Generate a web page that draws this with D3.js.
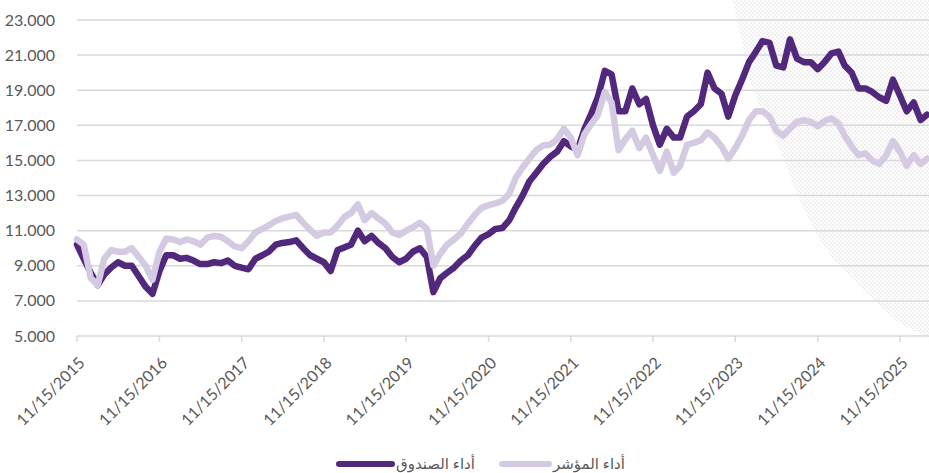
<!DOCTYPE html>
<html>
<head>
<meta charset="utf-8">
<script src="https://cdn.jsdelivr.net/npm/d3@7"></script>
<style>
body { margin: 0; background: #fff; }
svg text { font-family: Lato, "DejaVu Sans", sans-serif; fill: #595959; }
</style>
</head>
<body>
<svg id="chart" width="929" height="473"></svg>
<script>

// monthly observations (15th of each month)
var months = [
  "2015-11","2015-12","2016-01","2016-02","2016-03","2016-04","2016-05","2016-06","2016-07","2016-08","2016-09","2016-10",
  "2016-11","2016-12","2017-01","2017-02","2017-03","2017-04","2017-05","2017-06","2017-07","2017-08","2017-09","2017-10",
  "2017-11","2017-12","2018-01","2018-02","2018-03","2018-04","2018-05","2018-06","2018-07","2018-08","2018-09","2018-10",
  "2018-11","2018-12","2019-01","2019-02","2019-03","2019-04","2019-05","2019-06","2019-07","2019-08","2019-09","2019-10",
  "2019-11","2019-12","2020-01","2020-02","2020-03","2020-04","2020-05","2020-06","2020-07","2020-08","2020-09","2020-10",
  "2020-11","2020-12","2021-01","2021-02","2021-03","2021-04","2021-05","2021-06","2021-07","2021-08","2021-09","2021-10",
  "2021-11","2021-12","2022-01","2022-02","2022-03","2022-04","2022-05","2022-06","2022-07","2022-08","2022-09","2022-10",
  "2022-11","2022-12","2023-01","2023-02","2023-03","2023-04","2023-05","2023-06","2023-07","2023-08","2023-09","2023-10",
  "2023-11","2023-12","2024-01","2024-02","2024-03","2024-04","2024-05","2024-06","2024-07","2024-08","2024-09","2024-10",
  "2024-11","2024-12","2025-01","2025-02","2025-03","2025-04","2025-05","2025-06","2025-07","2025-08","2025-09","2025-10",
  "2025-11","2025-12","2026-01","2026-02","2026-03"
];

// أداء الصندوق
var fund = [
  10.2, 9.4, 8.6, 7.9, 8.5, 8.9, 9.2, 9.0, 9.0, 8.4,
  7.8, 7.4, 8.7, 9.6, 9.6, 9.4, 9.45, 9.3, 9.1, 9.1,
  9.2, 9.15, 9.3, 9.0, 8.9, 8.8, 9.4, 9.6, 9.8, 10.2,
  10.3, 10.35, 10.45, 10.0, 9.6, 9.4, 9.2, 8.7, 9.9, 10.05,
  10.2, 11.0, 10.4, 10.7, 10.3, 10.0, 9.5, 9.2, 9.4, 9.8,
  10.0, 9.5, 7.5, 8.3, 8.6, 8.9, 9.3, 9.6, 10.15, 10.6,
  10.8, 11.1, 11.15, 11.6, 12.3, 13.0, 13.8, 14.3, 14.8, 15.2,
  15.5, 16.1, 15.8, 15.6, 16.8, 17.7, 18.6, 20.1, 19.9, 17.8,
  17.8, 19.1, 18.2, 18.5, 17.0, 15.9, 16.8, 16.3, 16.3, 17.5,
  17.8, 18.2, 20.0, 19.1, 18.8, 17.5, 18.7, 19.6, 20.6, 21.2,
  21.8, 21.7, 20.4, 20.3, 21.9, 20.8, 20.6, 20.6, 20.2, 20.6,
  21.1, 21.2, 20.4, 20.0, 19.1, 19.1, 18.9, 18.6, 18.4, 19.6,
  18.7, 17.8, 18.3, 17.3, 17.6
];

// أداء المؤشر
var bench = [
  10.5, 10.2, 8.3, 7.9, 9.4, 9.9, 9.8, 9.8, 10.0, 9.5,
  9.0, 8.2, 9.8, 10.55, 10.5, 10.35, 10.5, 10.4, 10.2, 10.6,
  10.7, 10.65, 10.4, 10.1, 10.0, 10.4, 10.9, 11.1, 11.3, 11.55,
  11.7, 11.8, 11.9, 11.45, 11.05, 10.7, 10.9, 10.9, 11.3, 11.8,
  12.0, 12.5, 11.6, 12.0, 11.7, 11.4, 10.9, 10.75, 11.0, 11.2,
  11.45, 11.1, 9.0, 9.7, 10.2, 10.5, 10.85, 11.4, 11.9, 12.3,
  12.45, 12.55, 12.7, 13.1, 14.0, 14.6, 15.1, 15.6, 15.85, 15.9,
  16.2, 16.8, 16.3, 15.3, 16.5, 17.1, 17.6, 18.9, 18.3, 15.6,
  16.2, 16.7, 15.7, 16.3, 15.3, 14.4, 15.5, 14.3, 14.7, 15.9,
  16.0, 16.15, 16.6, 16.3, 15.8, 15.1, 15.7, 16.4, 17.3, 17.8,
  17.8, 17.5, 16.7, 16.4, 16.8, 17.2, 17.3, 17.2, 16.95, 17.25,
  17.4, 17.1, 16.4, 15.8, 15.3, 15.4, 15.0, 14.8, 15.3, 16.1,
  15.5, 14.7, 15.3, 14.8, 15.1
];

var yTicks = [5, 7, 9, 11, 13, 15, 17, 19, 21, 23];
var xTickLabels = ["11/15/2015","11/15/2016","11/15/2017","11/15/2018","11/15/2019",
                   "11/15/2020","11/15/2021","11/15/2022","11/15/2023","11/15/2024","11/15/2025"];
var legendNames = ["أداء الصندوق", "أداء المؤشر"];

var darkColor = "#51287b";
var lightColor = "#d4cae1";
var gridColor = "#d9d9d9";

var svg = d3.select("#chart");
var parseDay = d3.utcParse("%Y-%m-%d");
var parseTick = d3.utcParse("%m/%d/%Y");

var x = d3.scaleUtc()
  .domain([parseTick("11/15/2015"), parseDay("2026-03-24")])
  .range([77, 929]);
var y = d3.scaleLinear().domain([5, 23]).range([336, 20]);

// dotted background decoration on the right
var defs = svg.append("defs");
var pat = defs.append("pattern").attr("id", "dots")
  .attr("patternUnits", "userSpaceOnUse").attr("width", 4).attr("height", 4);
pat.append("circle").attr("cx", 1).attr("cy", 1).attr("r", 1).attr("fill", "#ebebeb");
pat.append("circle").attr("cx", 3).attr("cy", 3).attr("r", 1).attr("fill", "#ebebeb");

var edge = [[733,0],[740,33],[753,90],[780,150],[800,200],[827,250],[853,280],[873,300],[900,323],[929,337]];
var edgePath = d3.line().curve(d3.curveCatmullRom)(edge);
svg.append("path")
  .attr("d", edgePath + "L929,0Z")
  .attr("fill", "url(#dots)");

// gridlines
svg.append("g").selectAll("line")
  .data(yTicks.slice(1))
  .enter().append("line")
    .attr("x1", 77).attr("x2", 929)
    .attr("y1", function(d) { return y(d); })
    .attr("y2", function(d) { return y(d); })
    .attr("stroke", gridColor).attr("stroke-width", 1.5);

// y labels
svg.append("g").selectAll("text")
  .data(yTicks)
  .enter().append("text")
    .attr("x", 55)
    .attr("y", function(d) { return y(d); })
    .attr("dy", "0.35em")
    .attr("text-anchor", "end")
    .attr("font-size", "16px")
    .text(function(d) { return d3.format(".3f")(d); });

// x axis
var tickDates = xTickLabels.map(parseTick);
svg.append("line")
  .attr("x1", 77).attr("x2", 929).attr("y1", 336).attr("y2", 336)
  .attr("stroke", gridColor).attr("stroke-width", 1.5);
svg.append("g").selectAll("line")
  .data(tickDates)
  .enter().append("line")
    .attr("x1", function(d) { return x(d); })
    .attr("x2", function(d) { return x(d); })
    .attr("y1", 336).attr("y2", 342)
    .attr("stroke", gridColor).attr("stroke-width", 1.5);

svg.append("g").selectAll("text")
  .data(xTickLabels)
  .enter().append("text")
    .attr("text-anchor", "end")
    .attr("font-size", "16px")
    .attr("transform", function(d) {
      return "translate(" + (x(parseTick(d)) + 1) + ",356) rotate(-45)";
    })
    .attr("dy", "0.7em")
    .text(function(d) { return d; });

// series
var dates = months.map(function(m) { return parseDay(m + "-15"); });
var line = d3.line()
  .x(function(d, i) { return x(dates[i]); })
  .y(function(d) { return y(d); });

svg.append("path")
  .attr("d", line(fund))
  .attr("fill", "none").attr("stroke", darkColor)
  .attr("stroke-width", 6.5).attr("stroke-linejoin", "round").attr("stroke-linecap", "round");

svg.append("path")
  .attr("d", line(bench))
  .attr("fill", "none").attr("stroke", lightColor)
  .attr("stroke-width", 6.5).attr("stroke-linejoin", "round").attr("stroke-linecap", "round");

// legend
var legend = svg.append("g");
var legItems = [
  {name: legendNames[0], color: darkColor, x1: 339, x2: 392, tx: 396},
  {name: legendNames[1], color: lightColor, x1: 502, x2: 549, tx: 553}
];
legItems.forEach(function(it) {
  legend.append("line")
    .attr("x1", it.x1).attr("x2", it.x2).attr("y1", 464).attr("y2", 464)
    .attr("stroke", it.color).attr("stroke-width", 6).attr("stroke-linecap", "round");
  legend.append("text")
    .attr("x", it.tx).attr("y", 464).attr("dy", "0.35em")
    .attr("font-size", "15px")
    .attr("text-anchor", "start")
    .text(it.name);
});

</script>
</body>
</html>
